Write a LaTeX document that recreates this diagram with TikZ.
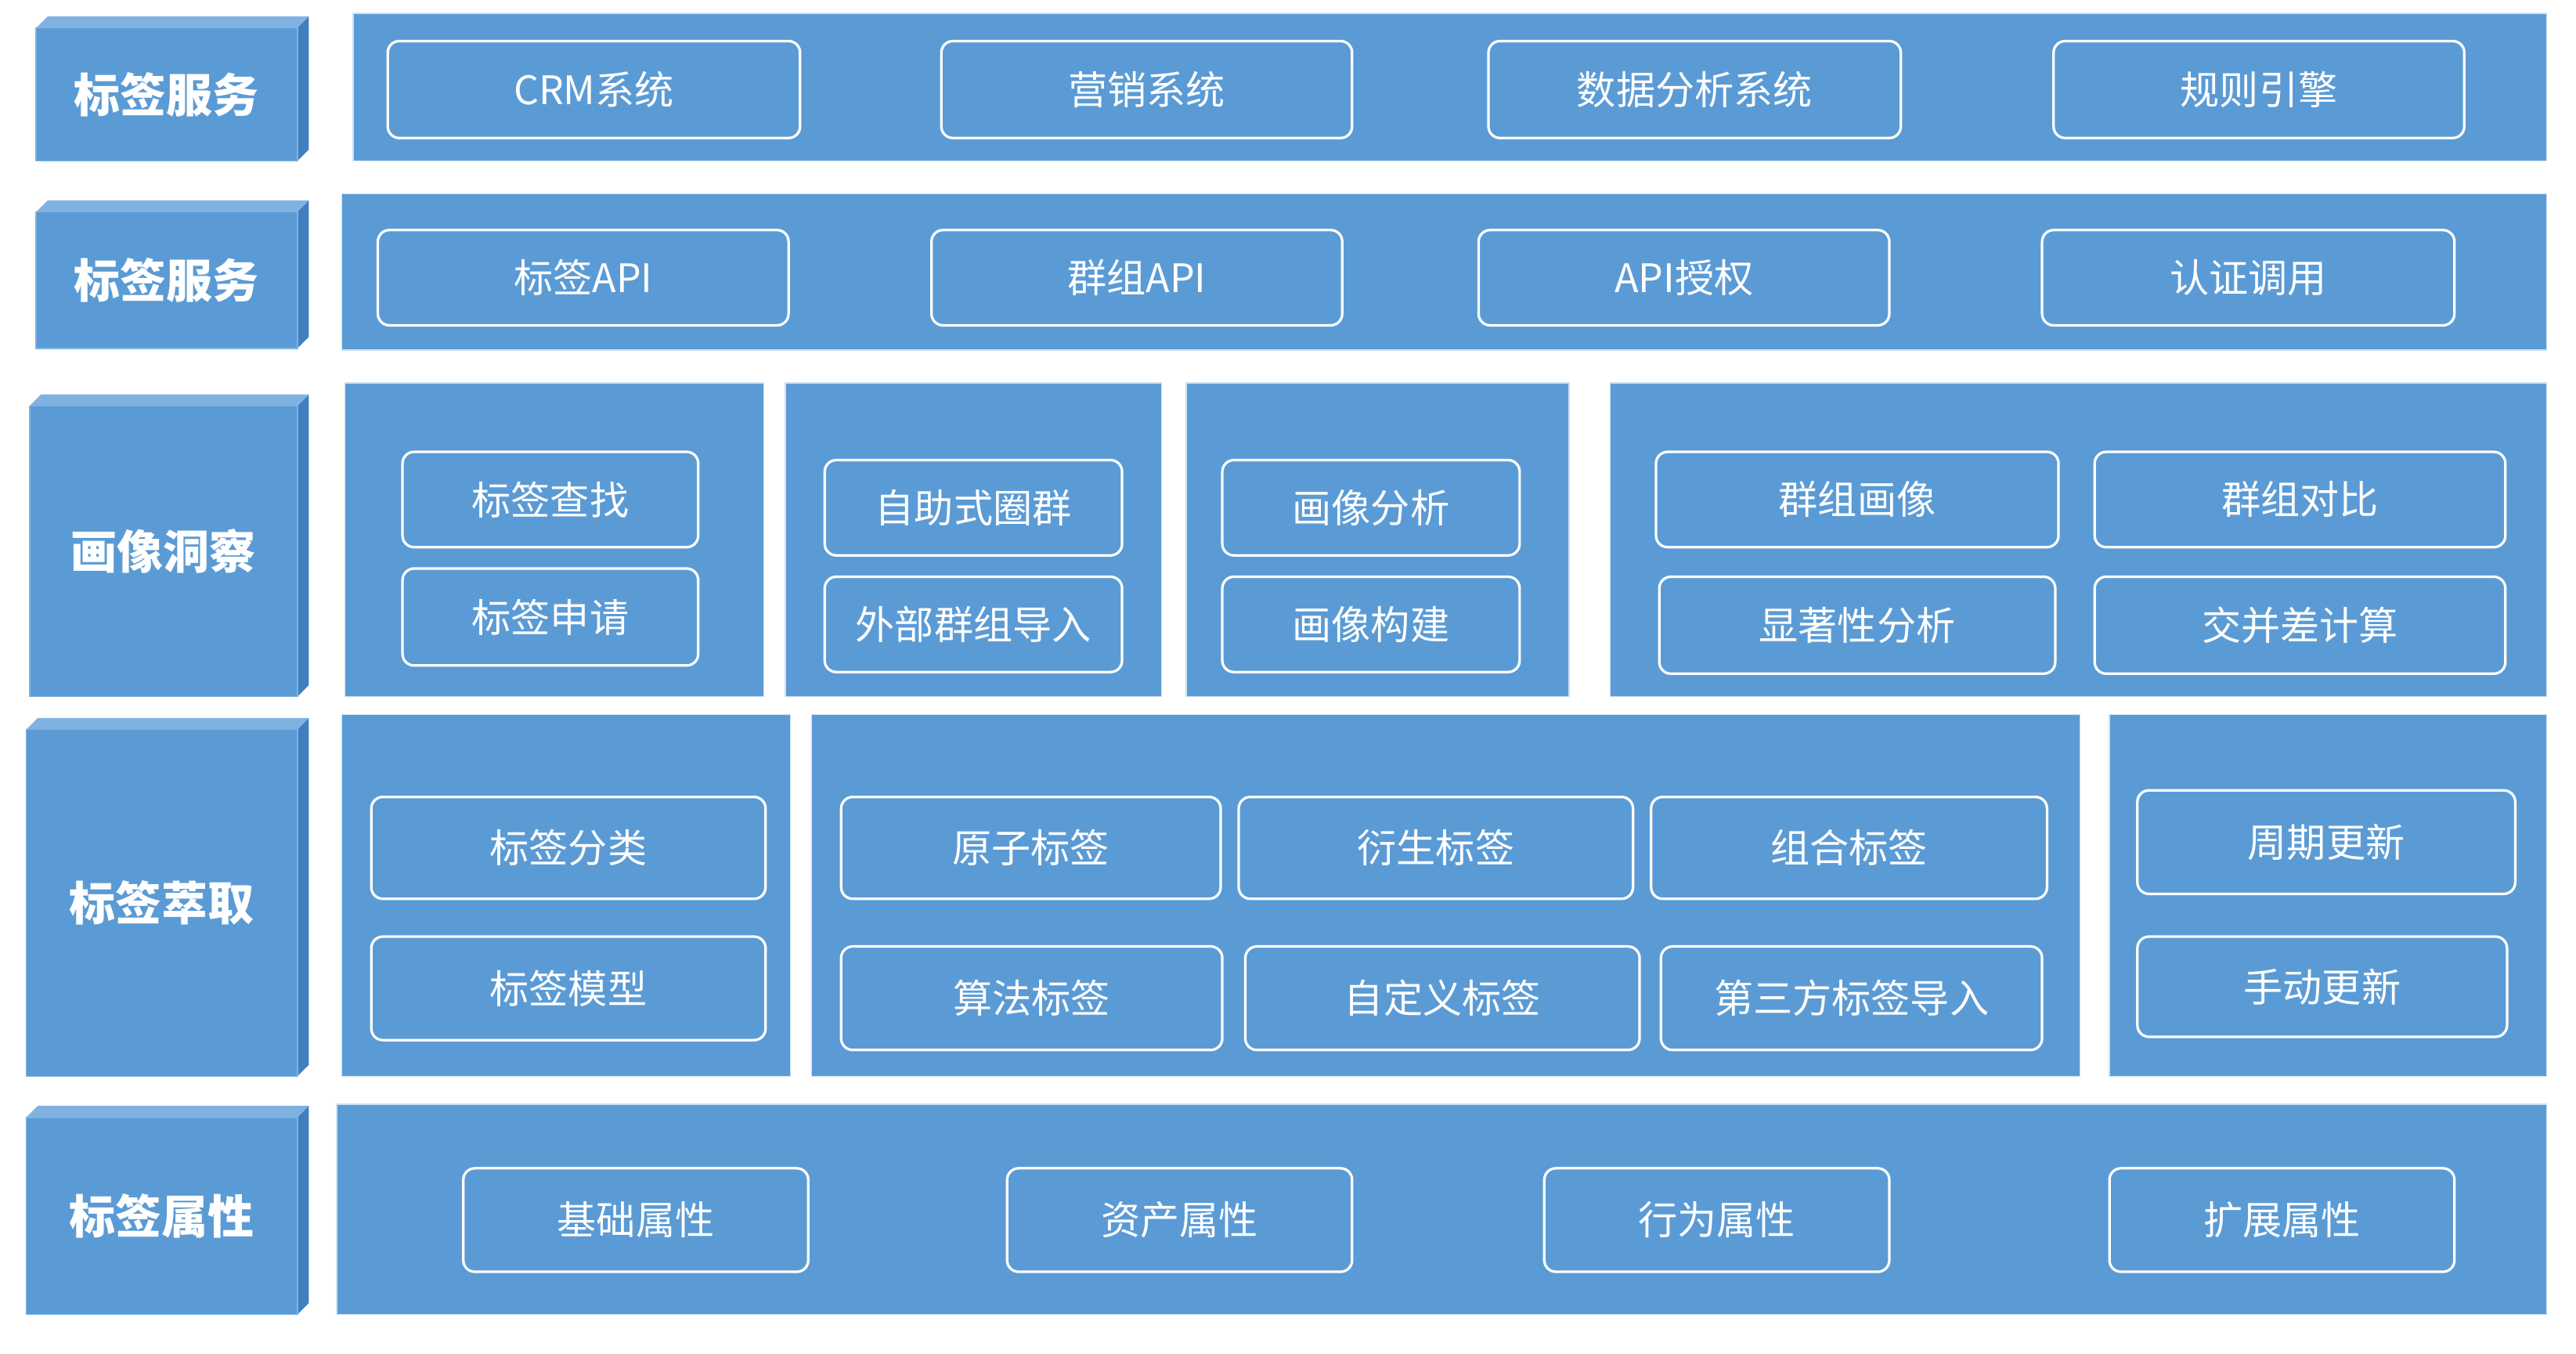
\documentclass[tikz,border=0pt]{standalone}
\usepackage{fontspec}
\setmainfont{Noto Sans CJK SC}
\definecolor{pb}{HTML}{5B9BD5}
\definecolor{pbd}{HTML}{3F7FBF}
\definecolor{pbt}{HTML}{7FB2E0}
\tikzset{
 ib/.style={draw=white,line width=2.2pt,rounded corners=10pt,fill=pb,text=white,font=\fontsize{34}{40}\selectfont,inner sep=0pt},
 panel/.style={fill=pb,draw=white!70!pb,line width=1pt,inner sep=0pt},
 lab/.style={fill=pb,text=white,font=\fontsize{40}{46}\selectfont\bfseries,inner sep=0pt,draw=pbt,line width=1pt}
}
\newcommand\ibx[6]{\node[ib,minimum width={(#3-#1)*0.05cm},minimum height={(#4-#2)*0.05cm}] (#6) at ({(#1+#3)/2},{-(#2+#4)/2}) {#5};}
\newcommand\pnl[5]{\node[panel,minimum width={(#3-#1)*0.05cm},minimum height={(#4-#2)*0.05cm}] (#5) at ({(#1+#3)/2},{-(#2+#4)/2}) {};}
\newcommand\lbx[6]{%
 \fill[pbd] (#3,-#2-7) -- (#3+7,-#2) -- (#3+7,-#4+7) -- (#3,-#4) -- cycle;
 \fill[pbt] (#1,-#2-7) -- (#1+7,-#2) -- (#3+7,-#2) -- (#3,-#2-7) -- cycle;
 \node[lab,minimum width={(#3-#1)*0.05cm},minimum height={(#4-#2-7)*0.05cm}] (#6) at ({(#1+#3)/2},{-(#2+7+#4)/2}) {#5};}
\begin{document}
\begin{tikzpicture}[x=0.05cm,y=0.05cm]
\useasboundingbox (0,0) rectangle (1568,-824);
\fill[white] (0,0) rectangle (1568,-824);
% left labels
\lbx{22}{10}{181}{98}{标签服务}{L1}
\lbx{22}{122}{181}{212}{标签服务}{L2}
\lbx{18}{240}{181}{424}{画像洞察}{L3}
\lbx{16}{437}{181}{655}{标签萃取}{L4}
\lbx{16}{673}{181}{800}{标签属性}{L5}
% panels
\pnl{215}{8}{1550}{98}{P1}
\pnl{208}{118}{1550}{213}{P2}
\pnl{210}{233}{465}{424}{P3a}
\pnl{478}{233}{707}{424}{P3b}
\pnl{722}{233}{955}{424}{P3c}
\pnl{980}{233}{1550}{424}{P3d}
\pnl{208}{435}{481}{655}{P4a}
\pnl{494}{435}{1266}{655}{P4b}
\pnl{1284}{435}{1550}{655}{P4c}
\pnl{205}{672}{1550}{800}{P5}
% row1
\ibx{236}{25}{487}{84}{CRM系统}{a1}
\ibx{573}{25}{823}{84}{营销系统}{a2}
\ibx{906}{25}{1157}{84}{数据分析系统}{a3}
\ibx{1250}{25}{1500}{84}{规则引擎}{a4}
% row2
\ibx{230}{140}{480}{198}{标签API}{b1}
\ibx{567}{140}{817}{198}{群组API}{b2}
\ibx{900}{140}{1150}{198}{API授权}{b3}
\ibx{1243}{140}{1494}{198}{认证调用}{b4}
% row3
\ibx{245}{275}{425}{333}{标签查找}{c1}
\ibx{245}{346}{425}{405}{标签申请}{c2}
\ibx{502}{280}{683}{338}{自助式圈群}{c3}
\ibx{502}{351}{683}{409}{外部群组导入}{c4}
\ibx{744}{280}{925}{338}{画像分析}{c5}
\ibx{744}{351}{925}{409}{画像构建}{c6}
\ibx{1008}{275}{1253}{333}{群组画像}{c7}
\ibx{1275}{275}{1525}{333}{群组对比}{c8}
\ibx{1010}{351}{1251}{410}{显著性分析}{c9}
\ibx{1275}{351}{1525}{410}{交并差计算}{c10}
% row4
\ibx{226}{485}{466}{547}{标签分类}{d1}
\ibx{226}{570}{466}{633}{标签模型}{d2}
\ibx{512}{485}{743}{547}{原子标签}{d3}
\ibx{754}{485}{994}{547}{衍生标签}{d4}
\ibx{1005}{485}{1246}{547}{组合标签}{d5}
\ibx{512}{576}{744}{639}{算法标签}{d6}
\ibx{758}{576}{998}{639}{自定义标签}{d7}
\ibx{1011}{576}{1243}{639}{第三方标签导入}{d8}
\ibx{1301}{481}{1531}{544}{周期更新}{d9}
\ibx{1301}{570}{1526}{631}{手动更新}{d10}
% row5
\ibx{282}{711}{492}{774}{基础属性}{e1}
\ibx{613}{711}{823}{774}{资产属性}{e2}
\ibx{940}{711}{1150}{774}{行为属性}{e3}
\ibx{1284}{711}{1494}{774}{扩展属性}{e4}
\end{tikzpicture}
\end{document}
